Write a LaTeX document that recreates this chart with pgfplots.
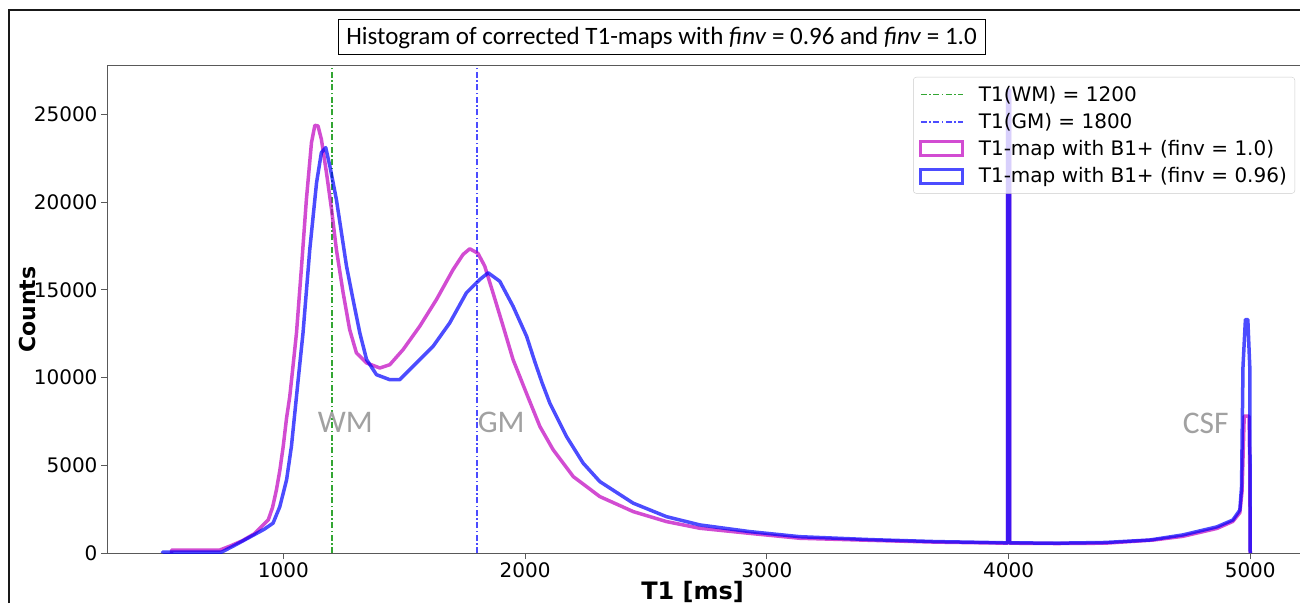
\documentclass[border=0pt]{standalone}
\usepackage{fontspec}
\setmainfont{DejaVu Sans}
\newfontfamily\carlito{Carlito}
\usepackage{pgfplots}
\pgfplotsset{compat=1.18}
\definecolor{magc}{rgb}{0.75,0,0.75}
\definecolor{bluc}{rgb}{0,0,1}
\definecolor{wmgreen}{rgb}{0.2,0.65,0.2}
\definecolor{gmblue}{rgb}{0.3,0.3,1}
\definecolor{annot}{gray}{0.63}
\definecolor{spine}{gray}{0.35}
\pgfplotsset{
  linelegend/.style={legend image code/.code={\path[draw=none,fill=none] (0pt,0pt) -- (56pt,0pt);\draw[##1] (0pt,0pt) -- (42pt,0pt);}},
  boxlegend/.style={legend image code/.code={\path[draw=none,fill=none] (0pt,0pt) -- (56pt,0pt);\draw[##1, rounded corners=0pt, line join=miter, line width=3pt] (0pt,-7pt) rectangle (42pt,7pt);}},
}

\begin{document}
\begin{tikzpicture}[x=1pt,y=1pt]
\fill[white] (0,0) rectangle (1300,603);
\draw[line width=2pt, black!90] (8.5,0) -- (8.5,592.5) -- (1300,592.5);
\draw[line width=1pt] (338,548) rectangle (985,583);
\node[font=\carlito\fontsize{25}{30}\selectfont] at (661.5,565.5) {Histogram of corrected T1-maps with \textit{finv} = 0.96 and \textit{finv} = 1.0};
\begin{axis}[
  at={(107pt,50pt)}, anchor=south west,
  scale only axis, width=1197.6pt, height=487pt,
  xmin=270, xmax=5225, ymin=0, ymax=27750,
  xtick={1000,2000,3000,4000,5000},
  ytick={0,5000,10000,15000,20000,25000},
  scaled y ticks=false, scaled x ticks=false,
  xtick pos=bottom, ytick pos=left,
  tick align=outside, major tick length=6pt,
  tick style={spine, line width=0.8pt},
  axis line style={spine, line width=1pt},
  /pgf/number format/set thousands separator={},
  /pgf/number format/assume math mode=true,
  tick label style={font=\fontsize{20}{24}\selectfont},
  xlabel={T1 [ms]},
  xlabel style={font=\bfseries\fontsize{24}{28}\selectfont, at={(axis description cs:0.489,-0.08)}, anchor=center},
  ylabel={Counts},
  ylabel style={font=\bfseries\fontsize{22}{26}\selectfont, at={(axis description cs:-0.066,0.5)}, anchor=center},
  legend style={at={(1,1)}, anchor=north east, xshift=-9.6pt, yshift=-11pt,
    draw=black!20, rounded corners=3pt, fill=white, fill opacity=0.8,
    text opacity=1, draw opacity=1, font=\fontsize{20}{24}\selectfont,
    row sep=6.5pt, inner xsep=6pt, inner ysep=7pt},
  legend cell align=left,
]
\addplot[draw=wmgreen, line width=1.6pt, dash pattern=on 6pt off 2.5pt on 1.5pt off 2.5pt, linelegend]
  coordinates {(1200,0) (1200,27750)};
\addlegendentry{T1(WM) = 1200}
\addplot[draw=gmblue, line width=1.6pt, dash pattern=on 6pt off 2.5pt on 1.5pt off 2.5pt, linelegend]
  coordinates {(1800,0) (1800,27750)};
\addlegendentry{T1(GM) = 1800}
\addplot[color=magc, opacity=0.7, line width=3.5pt, line join=round, boxlegend]
  coordinates {
  (537,0) (537,170) (600,170) (700,170) (737,170) (780,400) (830,700) (880,1100)
  (937,1880) (955,2600) (971,3600) (985,4700) (999,6070) (1013,7700) (1026,8900)
  (1040,10700) (1054,12540) (1075,16340) (1095,20150) (1116,23385) (1130,24370)
  (1143,24335) (1157,23575) (1178,21670) (1199,19580) (1219,17300) (1247,14825)
  (1274,12730) (1302,11400) (1344,10830) (1399,10540) (1440,10730) (1495,11590)
  (1564,12920) (1633,14440) (1702,16150) (1743,17010) (1771,17335) (1805,17070)
  (1833,16340) (1867,14825) (1909,12920) (1950,11020) (2005,9115) (2061,7210)
  (2116,5880) (2199,4355) (2309,3215) (2447,2360) (2585,1790) (2723,1410)
  (2929,1120) (3136,840) (3434,720) (3700,620) (3996,560) (3996,26400)
  (4004,26400) (4004,560) (4200,540) (4400,560) (4600,740) (4721,950) (4862,1400)
  (4928,1800) (4957,2300) (4966,3500) (4975,7800) (4995,7800) (4998,5000) (5000,0)
  };
\addlegendentry{T1-map with B1+ (finv = 1.0)}
\addplot[color=bluc, opacity=0.7, line width=3.5pt, line join=round, boxlegend]
  coordinates {
  (500,0) (500,50) (600,50) (744,50) (800,450) (860,900) (920,1350) (957,1700)
  (985,2640) (1013,4170) (1033,6070) (1047,7970) (1061,9875) (1081,12540)
  (1109,17300) (1137,21100) (1157,22815) (1175,23100) (1192,22050) (1219,20150)
  (1240,18250) (1261,16340) (1288,14440) (1316,12540) (1344,11020) (1385,10160)
  (1440,9875) (1481,9875) (1550,10830) (1619,11775) (1688,13110) (1757,14825)
  (1812,15580) (1847,15965) (1895,15485) (1950,14060) (2006,12350) (2040,10900)
  (2070,9700) (2102,8545) (2171,6640) (2240,5120) (2309,4070) (2447,2840)
  (2585,2070) (2723,1600) (2929,1220) (3136,930) (3434,760) (3700,650) (3996,580)
  (3996,26400) (4004,26400) (4004,580) (4200,560) (4400,600) (4584,740)
  (4721,1030) (4862,1490) (4928,1880) (4957,2450) (4964,3780) (4970,10630)
  (4980,13300) (4990,13300) (4998,10630) (5000,0)
  };
\addlegendentry{T1-map with B1+ (finv = 0.96)}
\node[font=\carlito\fontsize{31.5}{36}\selectfont, text=annot] at (axis cs:1256,7420) {WM};
\node[font=\carlito\fontsize{31.5}{36}\selectfont, text=annot] at (axis cs:1901,7420) {GM};
\node[font=\carlito\fontsize{31.5}{36}\selectfont, text=annot] at (axis cs:4816,7400) {CSF};
\end{axis}
\pgfresetboundingbox
\useasboundingbox (0,0) rectangle (1300,603);
\end{tikzpicture}
\end{document}
